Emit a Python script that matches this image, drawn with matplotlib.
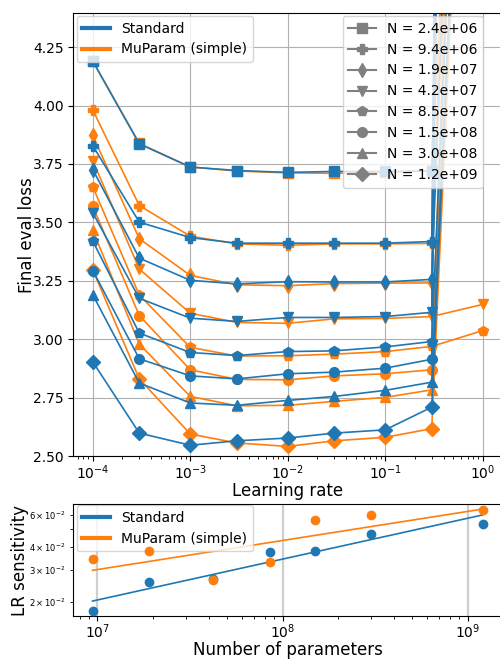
import numpy as np
import matplotlib
matplotlib.use("Agg")
import matplotlib.pyplot as plt
from matplotlib.lines import Line2D

# ---------------- data ----------------
learning_rates = [1e-4, 3e-4, 1e-3, 3e-3, 1e-2, 3e-2, 1e-1, 3e-1, 1.0]
n_params = [2.4e6, 9.4e6, 1.9e7, 4.2e7, 8.5e7, 1.5e8, 3.0e8, 1.2e9]
markers = ["s", "P", "d", "v", "p", "o", "^", "D"]

loss_standard = [
    [4.190, 3.836, 3.737, 3.722, 3.714, 3.718, 3.718, 3.720, 12.0],
    [3.828, 3.501, 3.435, 3.411, 3.411, 3.411, 3.411, 3.418, 25.0],
    [3.726, 3.347, 3.252, 3.237, 3.246, 3.245, 3.245, 3.256, 9.0],
    [3.541, 3.175, 3.090, 3.076, 3.093, 3.093, 3.097, 3.115, 30.0],
    [3.420, 3.026, 2.943, 2.930, 2.947, 2.950, 2.967, 2.990, 8.0],
    [3.294, 2.916, 2.843, 2.830, 2.852, 2.859, 2.876, 2.914, 20.0],
    [3.190, 2.812, 2.727, 2.717, 2.738, 2.755, 2.781, 2.816, 7.5],
    [2.903, 2.598, 2.546, 2.565, 2.577, 2.598, 2.612, 2.709, 7.6],
]
loss_muparam = [
    [4.190, 3.838, 3.737, 3.720, 3.712, 3.710, 3.715, 3.720, 8.0],
    [3.981, 3.572, 3.441, 3.408, 3.402, 3.408, 3.408, 3.410, 7.8],
    [3.872, 3.430, 3.273, 3.233, 3.229, 3.238, 3.240, 3.241, 10.0],
    [3.764, 3.300, 3.111, 3.072, 3.068, 3.087, 3.089, 3.097, 3.149],
    [3.652, 3.189, 2.965, 2.928, 2.929, 2.936, 2.947, 2.969, 3.037],
    [3.569, 3.101, 2.869, 2.828, 2.826, 2.843, 2.852, 2.869, 9.0],
    [3.466, 2.979, 2.755, 2.715, 2.717, 2.734, 2.751, 2.783, 8.5],
    [3.296, 2.830, 2.594, 2.556, 2.541, 2.565, 2.580, 2.617, 7.4],
]

sens_params = [9.4e6, 1.9e7, 4.2e7, 8.5e7, 1.5e8, 3.0e8, 1.2e9]
sens_standard = [0.01776, 0.0255, 0.0267, 0.0376, 0.0381, 0.0469, 0.0538]
sens_muparam = [0.0343, 0.0379, 0.0263, 0.0332, 0.0566, 0.0599, 0.0636]

C_STD = "#1f77b4"
C_MU = "#ff7f0e"

# ---------------- figure ----------------
W, H = 500, 660
fig = plt.figure(figsize=(W / 100, H / 100), dpi=100)

def px_axes(left, top, right, bottom):
    return fig.add_axes([left / W, 1 - bottom / H, (right - left) / W, (bottom - top) / H])

ax1 = px_axes(73.3, 13.3, 502.2, 456.0)
ax2 = px_axes(73.0, 504.0, 502.0, 616.0)

# ---- top panel ----
for i, m in enumerate(markers):
    ax1.plot(learning_rates, loss_muparam[i], color=C_MU, marker=m, ms=7, lw=1.2)
for i, m in enumerate(markers):
    ax1.plot(learning_rates, loss_standard[i], color=C_STD, marker=m, ms=7, lw=1.2)

ax1.set_xscale("log")
ax1.set_ylim(2.5, 4.395)
ax1.set_yticks([2.5, 2.75, 3.0, 3.25, 3.5, 3.75, 4.0, 4.25])
ax1.grid(True)
ax1.tick_params(axis="x", which="major", pad=2)
ax1.set_xlabel("Learning rate", fontsize=12, labelpad=-0.5)
ax1.set_ylabel("Final eval loss", fontsize=12, labelpad=-2)

h_param = [Line2D([], [], color=C_STD, lw=3), Line2D([], [], color=C_MU, lw=3)]
leg1 = ax1.legend(h_param, ["Standard", "MuParam (simple)"], loc="upper left",
                  bbox_to_anchor=(76.7 / W, 1 - 16 / H), bbox_transform=fig.transFigure,
                  borderaxespad=0, fontsize=10)
ax1.add_artist(leg1)
h_n = [Line2D([], [], color="gray", marker=m, ms=7, lw=1.5) for m in markers]
ax1.legend(h_n, [f"N = {n:.1e}" for n in n_params], loc="upper right",
           bbox_to_anchor=(483 / W, 1 - 16 / H), bbox_transform=fig.transFigure,
           borderaxespad=0, fontsize=10)

# ---- bottom panel ----
x = np.array(sens_params)
for ys, c in [(sens_standard, C_STD), (sens_muparam, C_MU)]:
    ys = np.array(ys)
    ax2.scatter(x, ys, color=c, s=36, zorder=3)
    k, b = np.polyfit(np.log10(x), np.log10(ys), 1)
    ax2.plot(x, 10 ** (k * np.log10(x) + b), color=c, lw=1.2)

ax2.set_xscale("log")
ax2.set_yscale("log")
ax2.grid(True, lw=1.6, alpha=0.6)
ax2.tick_params(axis="y", which="minor", labelsize=6)
ax2.tick_params(axis="x", which="major", pad=1)
ax2.set_xlabel("Number of parameters", fontsize=12, labelpad=0)
ax2.set_ylabel("LR sensitivity", fontsize=12, labelpad=0)
leg2 = ax2.legend(h_param, ["Standard", "MuParam (simple)"], loc="upper left",
                  bbox_to_anchor=(76.7 / W, 1 - 505.3 / H), bbox_transform=fig.transFigure,
                  borderaxespad=0, fontsize=10)
leg2.set_zorder(2)

fig.savefig("out.png", dpi=100)
